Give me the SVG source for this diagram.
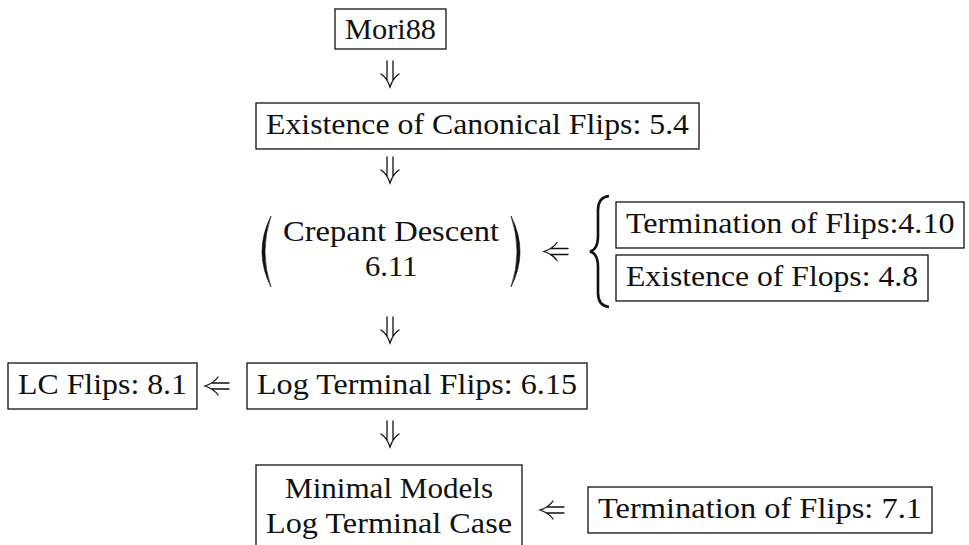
<svg xmlns="http://www.w3.org/2000/svg" width="969" height="545" viewBox="0 0 969 545">
<style>
  .box{fill:none;stroke:#111;stroke-width:1.3}
  .t{font-family:"Liberation Serif","Times New Roman",serif;font-size:29.5px;fill:#111}
  .c{text-anchor:middle}
  .arr{fill:none;stroke:#111;stroke-width:1.3;stroke-linecap:round}
  .delim{fill:#111;stroke:#111;stroke-width:0.6}
</style>
<defs>
  <path id="dn" d="M-3 0V19.4 M3 0V19.4 M-9 13 Q-3 17 0 26 Q3 17 9 13"/>
  <path id="lt" d="M24 -3H6.6 M24 3H6.6 M13 -9 Q9 -3 0 0 Q9 3 13 9"/>
</defs>
<rect width="969" height="545" fill="#fff"/>

<g id="mori88">
  <rect class="box" x="335" y="9" width="111" height="40"/>
  <text class="t" x="345" y="39" textLength="91" lengthAdjust="spacingAndGlyphs">Mori88</text>
</g>

<g id="canonical-flips">
  <rect class="box" x="256" y="103" width="443" height="46"/>
  <text class="t" x="266" y="133.5" textLength="423" lengthAdjust="spacingAndGlyphs">Existence of Canonical Flips: 5.4</text>
</g>

<g id="crepant-descent">
  <path class="delim" d="M271 216 Q253 251.5 271 287 Q259 251.5 271 216Z"/>
  <path class="delim" d="M511 216 Q529 251.5 511 287 Q523 251.5 511 216Z"/>
  <text class="t" x="283" y="241" textLength="216" lengthAdjust="spacingAndGlyphs">Crepant Descent</text>
  <text class="t" x="365" y="276" textLength="52.5" lengthAdjust="spacingAndGlyphs">6.11</text>
</g>

<g id="brace">
  <path d="M609 196 C601 197 598 202 598 210 L598 236 C598 245 596 250 590 251.5 C596 253 598 258 598 267 L598 293 C598 301 601 306 609 307" fill="none" stroke="#111" stroke-width="2.6"/>
</g>

<g id="termination-4-10">
  <rect class="box" x="616" y="202" width="348" height="46"/>
  <text class="t" x="626" y="232.5" textLength="328.5" lengthAdjust="spacingAndGlyphs">Termination of Flips:4.10</text>
</g>

<g id="existence-flops">
  <rect class="box" x="616" y="255" width="312" height="46"/>
  <text class="t" x="626" y="285.5" textLength="292" lengthAdjust="spacingAndGlyphs">Existence of Flops: 4.8</text>
</g>

<g id="lc-flips">
  <rect class="box" x="8" y="363" width="189" height="46"/>
  <text class="t" x="18" y="393.5" textLength="169" lengthAdjust="spacingAndGlyphs">LC Flips: 8.1</text>
</g>

<g id="log-terminal-flips">
  <rect class="box" x="247" y="363" width="340" height="46"/>
  <text class="t" x="257" y="393.5" textLength="320" lengthAdjust="spacingAndGlyphs">Log Terminal Flips: 6.15</text>
</g>

<g id="minimal-models">
  <rect class="box" x="256" y="465" width="266" height="100"/>
  <text class="t" x="285" y="498" textLength="208" lengthAdjust="spacingAndGlyphs">Minimal Models</text>
  <text class="t" x="266" y="533" textLength="246" lengthAdjust="spacingAndGlyphs">Log Terminal Case</text>
</g>

<g id="termination-7-1">
  <rect class="box" x="588" y="487" width="344" height="46"/>
  <text class="t" x="598" y="517.5" textLength="324" lengthAdjust="spacingAndGlyphs">Termination of Flips: 7.1</text>
</g>

<g id="connectors" class="arr">
  <use href="#dn" x="390" y="61"/>
  <use href="#dn" x="390" y="157"/>
  <use href="#dn" x="390" y="317"/>
  <use href="#dn" x="390" y="421"/>
  <use href="#lt" x="544" y="251.5"/>
  <use href="#lt" x="205" y="386"/>
  <use href="#lt" x="540" y="510"/>
</g>
</svg>
